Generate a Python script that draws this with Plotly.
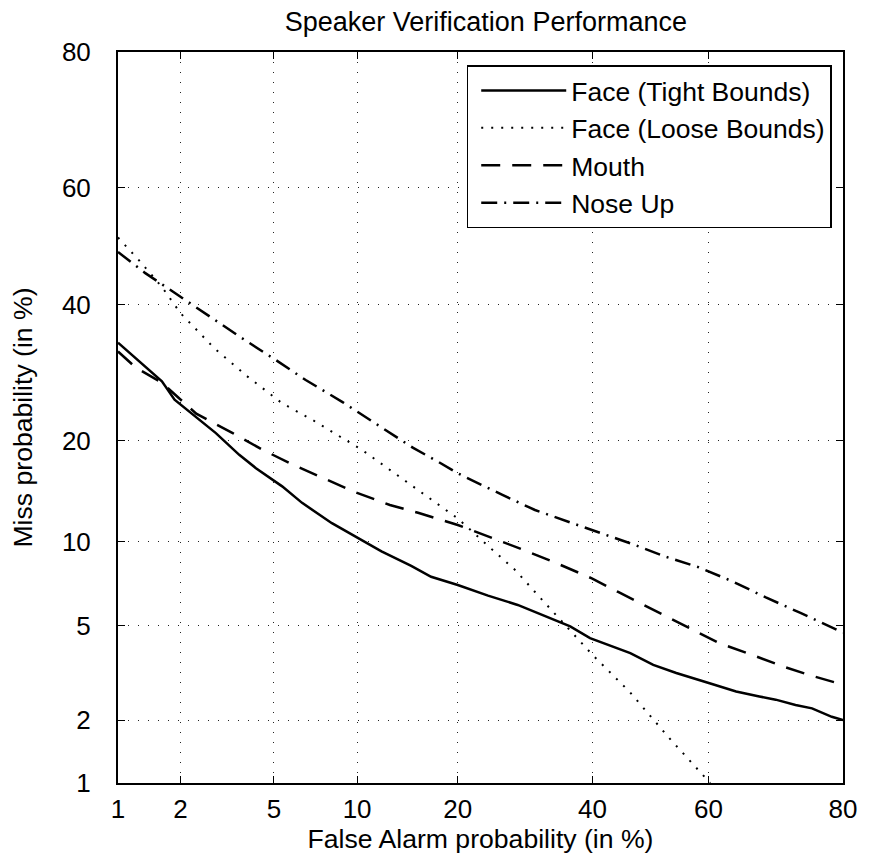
from statistics import NormalDist
import plotly.graph_objects as go

# ---- data (percent) ----
tick_vals_pct = [1, 2, 5, 10, 20, 40, 60, 80]
tick_labels = ["1", "2", "5", "10", "20", "40", "60", "80"]

face_tight_fa = [1, 1.64, 1.88, 2.44, 2.88, 3.62, 4.24, 5.38, 6.4, 8.2, 9.85, 12.0, 14.8, 16.9, 20.0,
                 23.9, 28.1, 32.6, 36.3, 39.6, 43.6, 46.5, 50.5, 54.5, 60.2, 64.6, 68.3, 70.8, 73.7,
                 76.0, 78.6, 80]
face_tight_miss = [33.8, 27.9, 25.3, 22.6, 20.9, 18.3, 16.8, 14.9, 13.3, 11.5, 10.4, 9.3, 8.3, 7.6, 7.1,
                   6.5, 6.0, 5.4, 4.97, 4.47, 4.14, 3.89, 3.48, 3.22, 2.91, 2.68, 2.55, 2.47, 2.34,
                   2.26, 2.07, 2.0]

face_loose_fa = [1, 1.27, 1.64, 2.0, 2.84, 3.92, 5.38, 6.97, 10.35, 14.5, 20.0, 24.2, 27.8, 30.7,
                 36.9, 40, 46.4, 53.3, 60.3]
face_loose_miss = [51.5, 47.6, 43.0, 38.6, 32.9, 28.6, 24.8, 22.6, 18.9, 15.2, 11.9, 9.56, 8.0, 6.7,
                   4.6, 3.83, 2.67, 1.65, 1.0]

mouth_fa = [1, 1.22, 1.64, 2.36, 3.4, 4.5, 5.7, 7.8, 9.7, 12.75, 15.5, 20.0, 23.4, 29.0, 33.4, 39.9,
            44.4, 51.0, 55.6, 61.8, 66.4, 72.0, 76.0, 80]
mouth_miss = [32.4, 30.0, 27.7, 23.4, 20.9, 18.9, 17.4, 15.6, 14.4, 13.1, 12.4, 11.35, 10.55, 9.4, 8.6,
              7.5, 6.7, 5.67, 5.04, 4.27, 3.89, 3.42, 3.13, 2.87]

nose_fa = [1, 1.36, 1.88, 2.7, 3.62, 5.08, 6.6, 8.9, 11.2, 15.0, 17.7, 20.0, 25.9, 30.7, 36.1, 41.3,
           47.1, 52.8, 58.4, 64.1, 69.3, 74.4, 80]
nose_miss = [49.0, 45.4, 42.0, 38.0, 34.8, 31.1, 28.1, 25.0, 22.4, 19.1, 17.5, 16.25, 14.05, 12.65,
             11.6, 10.7, 9.8, 8.9, 8.2, 7.3, 6.4, 5.6, 4.7]

series_names = ["Face (Tight Bounds)", "Face (Loose Bounds)", "Mouth", "Nose Up"]

# normal deviate (probit) scale used by DET plots
_nd = NormalDist()


def ndev(values):
    return [_nd.inv_cdf(v / 100.0) for v in values]


FONT = "Liberation Sans, Arial, Helvetica, sans-serif"

fig = go.Figure()
styles = [
    dict(dash="solid", width=2.5),
    dict(dash="2px,8px", width=2),
    dict(dash="19px,12px", width=2.5),
    dict(dash="16px,7px,2px,7px", width=2.5),
]
data = [
    (face_tight_fa, face_tight_miss),
    (face_loose_fa, face_loose_miss),
    (mouth_fa, mouth_miss),
    (nose_fa, nose_miss),
]
for name, (fa, miss), st in zip(series_names, data, styles):
    fig.add_trace(go.Scatter(
        x=ndev(fa), y=ndev(miss), mode="lines", name=name,
        line=dict(color="black", width=st["width"], dash=st["dash"]),
        hoverinfo="skip",
    ))

axis_common = dict(
    tickvals=ndev(tick_vals_pct), ticktext=tick_labels,
    range=[_nd.inv_cdf(0.01), _nd.inv_cdf(0.80)],
    showgrid=True, gridcolor="#222222", gridwidth=1, griddash="1px,9px",
    showline=True, linecolor="black", linewidth=2, mirror="ticks",
    ticks="inside", ticklen=7, tickwidth=1.2, tickcolor="black",
    zeroline=False, tickfont=dict(size=26, family=FONT, color="black"),
)

fig.update_layout(
    width=861, height=849,
    margin=dict(l=110, r=21, t=44, b=74),
    paper_bgcolor="white", plot_bgcolor="white",
    font=dict(family=FONT, color="black", size=26),
    title=dict(text="Speaker Verification Performance", x=0.555, xanchor="center",
               y=1 - 14 / 849, yanchor="middle", yref="container",
               font=dict(size=27, family=FONT, color="black")),
    xaxis=dict(axis_common, ticklabelstandoff=2,
               title=dict(text="False Alarm probability (in %)", standoff=2,
                          font=dict(size=26.6, family=FONT))),
    yaxis=dict(axis_common, ticklabelstandoff=20,
               title=dict(text="Miss probability (in %)", standoff=22,
                          font=dict(size=26.6, family=FONT))),
    legend=dict(x=0.481, y=0.982, xanchor="left", yanchor="top",
                bgcolor="white", bordercolor="black", borderwidth=1.5,
                font=dict(size=26.5, family=FONT, color="black"),
                itemwidth=85, indentation=8, tracegroupgap=0),
    showlegend=True,
)

fig.write_html("out.html")
